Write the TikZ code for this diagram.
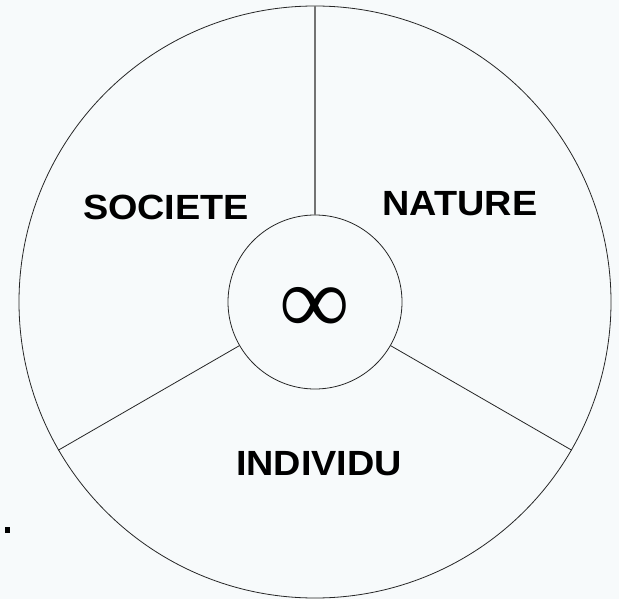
\documentclass[tikz,border=0pt]{standalone}
\usepackage{fontspec}
\setmainfont{Liberation Sans}[FakeStretch=1.08]
\newfontfamily\symfont{Liberation Serif}
\definecolor{bgcol}{RGB}{247,250,251}
\begin{document}
\begin{tikzpicture}[x=1pt, y=-1pt, font=\bfseries,
    ring/.style={circle, draw=black!85, line width=0.8pt, inner sep=0pt},
    spoke/.style={draw=black!85, line width=0.8pt},
    label/.style={font=\fontsize{35}{40}\selectfont\bfseries, text=black}]
  % background and page size
  \fill[bgcol] (0, 0) rectangle (619, 599);
  \useasboundingbox (0, 0) rectangle (619, 599);

  % circles
  \node[ring, minimum size=592pt] (outer) at (315, 302) {};
  \node[ring, minimum size=174pt] (inner) at (315, 302) {};
  \node (inf) at (315, 310) {\symfont\bfseries\fontsize{96}{96}\selectfont ∞};

  % spokes
  \draw[draw=black!55, line width=1.3pt] (inner.90) -- (outer.90);
  \draw[spoke] (inner.210) -- (outer.210);
  \draw[spoke] (inner.330) -- (outer.330);

  % sector labels
  \node[label] (societe) at (166, 207) {SOCIETE};
  \node[label] (nature) at (460, 204) {NATURE};
  \node[label] (individu) at (319, 464) {INDIVIDU};

  % stray mark
  \fill[black] (5, 527) rectangle (10, 533);
\end{tikzpicture}
\end{document}
